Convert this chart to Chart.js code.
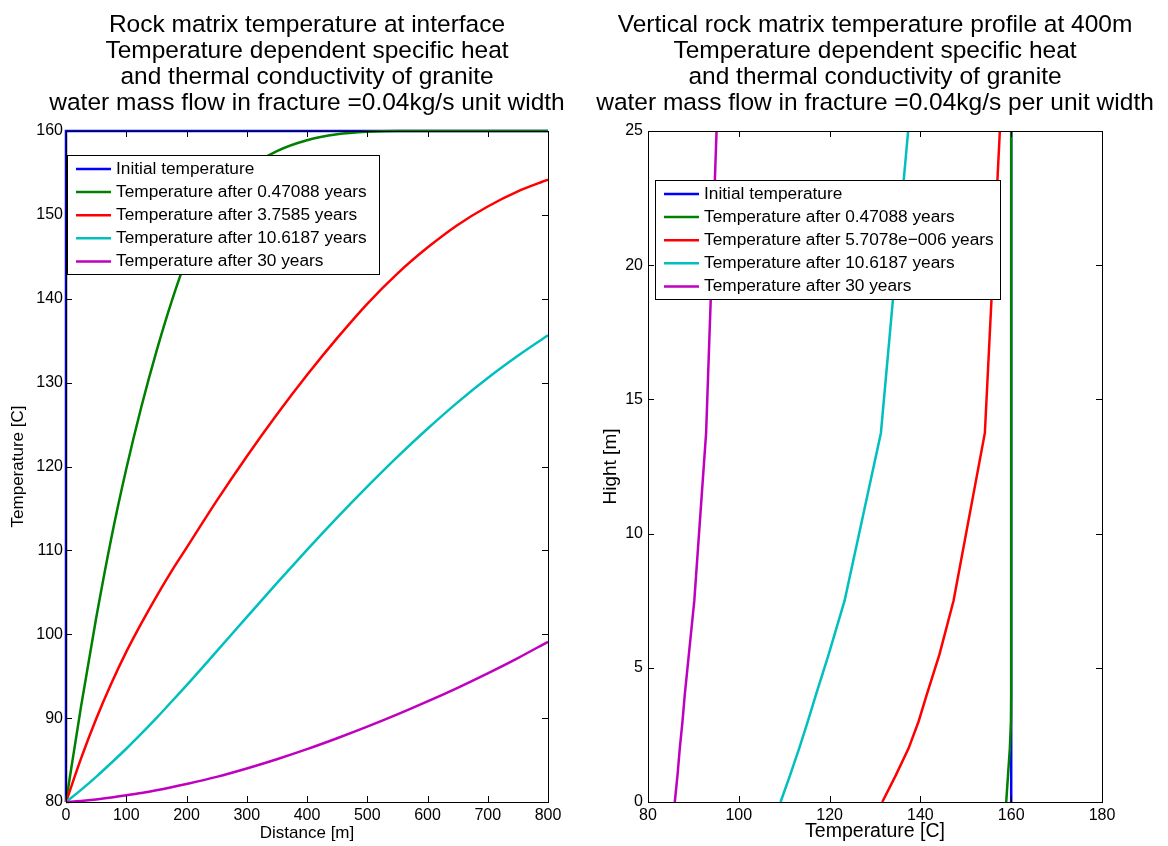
<!DOCTYPE html>
<html>
<head>
<meta charset="utf-8">
<title>Rock matrix temperature</title>
<script src="https://cdn.jsdelivr.net/npm/chart.js@4.4.0/dist/chart.umd.min.js"></script>
<style>
  html, body { margin: 0; padding: 0; background: #fff; }
  #wrap { position: relative; width: 1168px; height: 846px; overflow: hidden; }
  .box { position: absolute; top: 0; height: 846px; }
  #leftBox { left: 0; width: 614px; }
  #rightBox { left: 584px; width: 582px; }
</style>
</head>
<body>
<div id="wrap">
  <div class="box" id="rightBox"><canvas id="profileChart" width="582" height="846"></canvas></div>
  <div class="box" id="leftBox"><canvas id="interfaceChart" width="614" height="846"></canvas></div>
</div>
<script>
// Left plot: temperature along the interface vs distance
const distance = [0, 25, 50, 75, 100, 125, 150, 175, 200, 250, 300, 350, 400, 450, 500, 550, 600, 650, 700, 750, 800];
const initialDistance = [0, 0, 800];
const initialTemp = [80, 160, 160];
const temp047 = [80, 91.4, 101.9, 111.4, 119.7, 127.1, 133.7, 139.6, 144.7, 151.6, 155.4, 157.6, 158.9, 159.6, 159.9, 160, 160, 160, 160, 160, 160];
const temp376 = [80, 85.2, 89.9, 94.1, 97.9, 101.3, 104.5, 107.5, 110.3, 115.9, 121.2, 126.2, 130.9, 135.3, 139.4, 143, 146.1, 148.8, 151, 152.8, 154.2];
const temp1062 = [80, 81.45, 83, 84.65, 86.35, 88.15, 90, 91.95, 93.9, 97.95, 102.05, 106.1, 110.05, 113.9, 117.6, 121.15, 124.5, 127.65, 130.55, 133.2, 135.65];
const temp30 = [80, 80.12, 80.3, 80.53, 80.8, 81.08, 81.4, 81.76, 82.15, 83, 84, 85.1, 86.3, 87.6, 88.98, 90.44, 91.99, 93.62, 95.34, 97.16, 99.1];

// Right plot: vertical profile at 400 m
const hight = [0, 1, 2, 3, 4, 5.5, 7.5, 13.75, 25];
const profileInitial = [160, 160, 160, 160, 160, 160, 160, 160, 160];
const profile047 = [158.9, 159.3, 159.7, 159.95, 160, 160, 160, 160, 160];
const profile57e6 = [131.6, 134.6, 137.4, 139.6, 141.4, 144.2, 147.3, 154.2, 157.5];
const profile1062 = [109.2, 111.3, 113.3, 115.2, 117, 119.8, 123.3, 131.3, 137.3];
const profile30 = [85.9, 86.5, 87.0, 87.6, 88.1, 89, 90.2, 92.8, 95.1];

const leftLabels = [
  "Initial temperature",
  "Temperature after 0.47088 years",
  "Temperature after 3.7585 years",
  "Temperature after 10.6187 years",
  "Temperature after 30 years",
];
const rightLabels = [
  "Initial temperature",
  "Temperature after 0.47088 years",
  "Temperature after 5.7078e\u2212006 years",
  "Temperature after 10.6187 years",
  "Temperature after 30 years",
];
const seriesColors = ["#0000ff", "#008000", "#ff0000", "#00bfbf", "#bf00bf"];

const leftTitle = [
  "Rock matrix temperature at interface",
  "Temperature dependent specific heat",
  "and thermal conductivity of granite",
  "water mass flow in fracture =0.04kg/s unit width",
];
const rightTitle = [
  "Vertical rock matrix temperature profile at 400m",
  "Temperature dependent specific heat",
  "and thermal conductivity of granite",
  "water mass flow in fracture =0.04kg/s per unit width",
];

Chart.defaults.font.family = "'Liberation Sans', Arial, Helvetica, sans-serif";
Chart.defaults.color = "#000";

function toPoints(xs, ys) {
  return xs.map((x, i) => ({ x: x, y: ys[i] }));
}

function makeSet(label, points, i, smooth) {
  return {
    label: label,
    data: points,
    showLine: true,
    borderColor: seriesColors[i],
    backgroundColor: seriesColors[i],
    borderWidth: 2.5,
    pointRadius: 0,
    fill: false,
    tension: 0,
    cubicInterpolationMode: smooth ? "monotone" : "default",
    clip: 3, // let lines on the axes edge show fully
    order: 5 - i, // later series drawn on top, like MATLAB
  };
}

// box + inward ticks on all four sides
const matlabFrame = {
  id: "matlabFrame",
  afterDatasetsDraw(chart) {
    const { ctx, chartArea: a, scales } = chart;
    const len = 6;
    ctx.save();
    ctx.strokeStyle = "#000";
    ctx.lineWidth = 1;
    ctx.beginPath();
    scales.x.ticks.forEach((t) => {
      const px = Math.round(scales.x.getPixelForValue(t.value)) + 0.5;
      ctx.moveTo(px, a.bottom);
      ctx.lineTo(px, a.bottom - len);
      ctx.moveTo(px, a.top);
      ctx.lineTo(px, a.top + len);
    });
    scales.y.ticks.forEach((t) => {
      const py = Math.round(scales.y.getPixelForValue(t.value)) + 0.5;
      ctx.moveTo(a.left, py);
      ctx.lineTo(a.left + len, py);
      ctx.moveTo(a.right, py);
      ctx.lineTo(a.right - len, py);
    });
    ctx.stroke();
    ctx.strokeRect(Math.round(a.left) + 0.5, Math.round(a.top) + 0.5,
      Math.round(a.right - a.left), Math.round(a.bottom - a.top));
    ctx.restore();
  },
};

// legend box inside the axes
const matlabLegend = {
  id: "matlabLegend",
  afterDraw(chart, args, opts) {
    const { ctx, chartArea: a } = chart;
    const sets = chart.data.datasets;
    ctx.save();
    ctx.font = "17.3px 'Liberation Sans', Arial, sans-serif";
    const textW = Math.max(...sets.map((d) => ctx.measureText(d.label).width));
    const x = Math.round(a.left + opts.dx);
    const y = Math.round(a.top + opts.dy);
    const rowH = 23.1;
    const w = Math.round(49 + textW + opts.padRight);
    const h = Math.round(rowH * (sets.length - 1) + 26.5);
    ctx.fillStyle = "#fff";
    ctx.fillRect(x, y, w, h);
    ctx.strokeStyle = "#000";
    ctx.lineWidth = 1;
    ctx.strokeRect(x + 0.5, y + 0.5, w, h);
    sets.forEach((d, i) => {
      const cy = y + 14 + i * rowH;
      ctx.strokeStyle = d.borderColor;
      ctx.lineWidth = 2.5;
      ctx.beginPath();
      ctx.moveTo(x + 9, cy);
      ctx.lineTo(x + 44, cy);
      ctx.stroke();
      ctx.fillStyle = "#000";
      ctx.textBaseline = "middle";
      ctx.textAlign = "left";
      ctx.fillText(d.label, x + 49, cy);
    });
    ctx.restore();
  },
};

function baseOptions(titleLines, legendPos) {
  return {
    responsive: false,
    animation: false,
    layout: { padding: 0 },
    plugins: {
      legend: { display: false },
      tooltip: { enabled: false },
      title: {
        display: true,
        text: titleLines,
        color: "#000",
        font: { size: 24.5, weight: "normal", lineHeight: "26px" },
        padding: { top: 12, bottom: 15 },
      },
      matlabLegend: legendPos,
    },
  };
}

// empty right-hand axis that only reserves room, so the title centres over the plot
function spacerAxis(min, max, width) {
  return {
    type: "linear",
    position: "right",
    min: min,
    max: max,
    ticks: { display: false },
    grid: { display: false },
    border: { display: false },
    afterFit: (s) => { s.width = width; },
  };
}

// Left chart
const leftOpts = baseOptions(leftTitle, { dx: 1, dy: 24, padRight: 12 });
leftOpts.scales = {
  x: {
    type: "linear",
    min: 0,
    max: 800,
    ticks: { stepSize: 100, font: { size: 16 }, padding: 4, maxRotation: 0 },
    grid: { drawOnChartArea: false, drawTicks: false },
    border: { display: false },
    title: { display: true, text: "Distance [m]", font: { size: 17 }, padding: { top: 0, bottom: 2 } },
    afterFit: (s) => { s.height = 44; },
  },
  y: {
    type: "linear",
    min: 80,
    max: 160,
    ticks: { stepSize: 10, font: { size: 16 }, padding: 3 },
    grid: { drawOnChartArea: false, drawTicks: false },
    border: { display: false },
    title: { display: true, text: "Temperature [C]", font: { size: 17 }, padding: { top: 8, bottom: 0 } },
    afterFit: (s) => { s.width = 66; },
  },
  ySpacer: spacerAxis(80, 160, 66),
};

new Chart(document.getElementById("interfaceChart"), {
  type: "scatter",
  data: {
    datasets: [
      makeSet(leftLabels[0], toPoints(initialDistance, initialTemp), 0, false),
      makeSet(leftLabels[1], toPoints(distance, temp047), 1, true),
      makeSet(leftLabels[2], toPoints(distance, temp376), 2, true),
      makeSet(leftLabels[3], toPoints(distance, temp1062), 3, true),
      makeSet(leftLabels[4], toPoints(distance, temp30), 4, true),
    ],
  },
  options: leftOpts,
  plugins: [matlabFrame, matlabLegend],
});

// Right chart
const rightOpts = baseOptions(rightTitle, { dx: 7, dy: 49, padRight: 6 });
rightOpts.scales = {
  x: {
    type: "linear",
    min: 80,
    max: 180,
    ticks: { stepSize: 20, font: { size: 16 }, padding: 4, maxRotation: 0 },
    grid: { drawOnChartArea: false, drawTicks: false },
    border: { display: false },
    title: { display: true, text: "Temperature [C]", font: { size: 19.5 }, padding: { top: 0, bottom: 3 } },
    afterFit: (s) => { s.height = 44; },
  },
  y: {
    type: "linear",
    min: 0,
    max: 25,
    ticks: { stepSize: 5, font: { size: 16 }, padding: 5 },
    grid: { drawOnChartArea: false, drawTicks: false },
    border: { display: false },
    title: { display: true, text: "Hight [m]", font: { size: 19 }, padding: { top: 15, bottom: 0 } },
    afterFit: (s) => { s.width = 64; },
  },
  ySpacer: spacerAxis(0, 25, 64),
};

new Chart(document.getElementById("profileChart"), {
  type: "scatter",
  data: {
    datasets: [
      makeSet(rightLabels[0], toPoints(profileInitial, hight), 0, false),
      makeSet(rightLabels[1], toPoints(profile047, hight), 1, false),
      makeSet(rightLabels[2], toPoints(profile57e6, hight), 2, false),
      makeSet(rightLabels[3], toPoints(profile1062, hight), 3, false),
      makeSet(rightLabels[4], toPoints(profile30, hight), 4, false),
    ],
  },
  options: rightOpts,
  plugins: [matlabFrame, matlabLegend],
});
</script>
</body>
</html>
